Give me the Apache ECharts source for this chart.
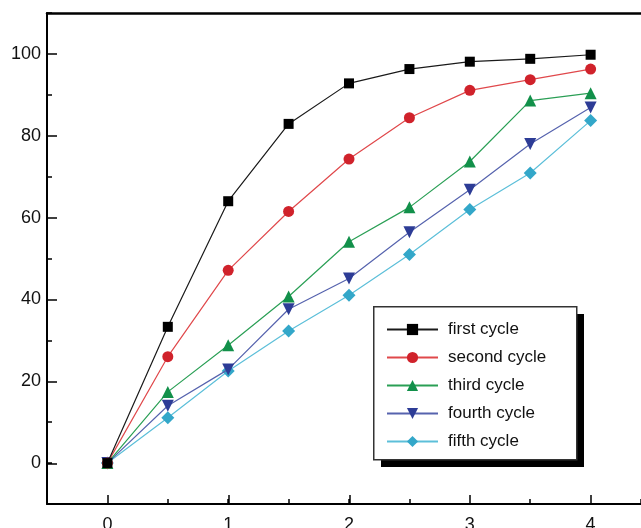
<!DOCTYPE html>
<html>
<head>
<meta charset="utf-8">
<script src="https://cdn.jsdelivr.net/npm/echarts@6/dist/echarts.min.js"></script>
<style>
  html, body { margin: 0; padding: 0; background: #fff; }
  #chart { width: 641px; height: 528px; }
</style>
</head>
<body>
<div id="chart"></div>
<script>
// cycle data, x = 0 .. 4 in steps of 0.5
const xValues = [0, 0.5, 1, 1.5, 2, 2.5, 3, 3.5, 4];
const firstCycle = [0, 33.3, 64.0, 82.9, 92.8, 96.3, 98.1, 98.8, 99.8];
const secondCycle = [0, 26.0, 47.1, 61.5, 74.3, 84.4, 91.1, 93.7, 96.3];
const thirdCycle = [0, 17.4, 28.8, 40.7, 54.1, 62.5, 73.7, 88.6, 90.4];
const fourthCycle = [0, 14.0, 22.9, 37.6, 45.1, 56.4, 66.8, 78.0, 86.9];
const fifthCycle = [0, 11.1, 22.5, 32.3, 41.0, 51.0, 62.0, 70.9, 83.7];

const seriesNames = ['first cycle', 'second cycle', 'third cycle', 'fourth cycle', 'fifth cycle'];
const xTickLabels = ['0', '1', '2', '3', '4'];
const yTickLabels = ['0', '20', '40', '60', '80', '100'];

const FONT = '"Liberation Sans", Arial, sans-serif';

const styles = [
    { data: firstCycle, symbol: 'rect', size: 10, marker: '#000000', line: '#1a1a1a' },
    { data: secondCycle, symbol: 'circle', size: 11, marker: '#d0222b', line: '#e0484b' },
    { data: thirdCycle, symbol: 'triangle', size: 12, marker: '#12904a', line: '#2a9f55' },
    { data: fourthCycle, symbol: 'path://M0,0 L10,0 L5,9 Z', size: 12, marker: '#2d3c96', line: '#5663ae' },
    { data: fifthCycle, symbol: 'diamond', size: 13, marker: '#33a7c9', line: '#5cbfd9' }
];

const chart = echarts.init(document.getElementById('chart'), null, { renderer: 'canvas' });

const series = styles.map((s, i) => ({
    name: seriesNames[i],
    type: 'line',
    xAxisIndex: 0,
    yAxisIndex: 0,
    data: xValues.map((x, j) => [x, s.data[j]]),
    symbol: s.symbol,
    symbolSize: s.size,
    itemStyle: { color: s.marker },
    lineStyle: { color: s.line, width: 1.2 },
    z: 10 - i,
    animation: false
}));

const tickStyle = { color: '#000', width: 1.5 };

const option = {
    backgroundColor: '#ffffff',
    animation: false,
    grid: [
        // main frame, the right side runs off the picture
        { left: 47, right: 0, top: 13, bottom: 24, show: false, outerBoundsMode: 'none', containLabel: false },
        // inner grid only used for the long major ticks
        { left: 108, right: 50.3, top: 54, bottom: 64, show: false, outerBoundsMode: 'none', containLabel: false }
    ],
    xAxis: [
        {
            type: 'value', gridIndex: 0, min: -0.5, max: 4.417, interval: 0.5,
            axisLine: { onZero: false, lineStyle: { color: '#000', width: 2 } },
            axisTick: { inside: true, length: 5, lineStyle: tickStyle },
            splitLine: { show: false },
            axisLabel: {
                margin: 12, color: '#111', fontSize: 18, fontFamily: FONT,
                formatter: v => (Number.isInteger(v) && v >= 0 ? xTickLabels[v] : '')
            }
        },
        {
            type: 'value', gridIndex: 1, min: 0, max: 4, interval: 1, offset: 40,
            axisLine: { show: false, onZero: false },
            axisTick: { inside: true, length: 9, lineStyle: tickStyle },
            splitLine: { show: false },
            axisLabel: { show: false }
        },
        {
            // top border of the frame
            type: 'value', gridIndex: 0, position: 'top', min: -0.5, max: 4.417,
            axisLine: { onZero: false, lineStyle: { color: '#000', width: 2.5 } },
            axisTick: { show: false },
            splitLine: { show: false },
            axisLabel: { show: false }
        }
    ],
    yAxis: [
        {
            type: 'value', gridIndex: 0, min: -10, max: 110, interval: 10,
            axisLine: { onZero: false, lineStyle: { color: '#000', width: 2 } },
            axisTick: { inside: true, length: 5, lineStyle: tickStyle },
            splitLine: { show: false },
            axisLabel: {
                margin: 6, color: '#111', fontSize: 18, fontFamily: FONT,
                formatter: v => (v >= 0 && v % 20 === 0 ? yTickLabels[v / 20] : '')
            }
        },
        {
            type: 'value', gridIndex: 1, min: 0, max: 100, interval: 20, offset: 61,
            axisLine: { show: false, onZero: false },
            axisTick: { inside: true, length: 10, lineStyle: tickStyle },
            splitLine: { show: false },
            axisLabel: { show: false }
        }
    ],
    // legend box with a hard black drop shadow
    graphic: [
        { type: 'rect', left: 381, top: 314, z: 1, shape: { width: 203, height: 153 }, style: { fill: '#000' } },
        { type: 'rect', left: 373, top: 306, z: 2, shape: { width: 203, height: 153 }, style: { fill: '#fff', stroke: '#333', lineWidth: 1.5 } }
    ],
    legend: {
        data: seriesNames,
        orient: 'vertical',
        left: 373,
        top: 306,
        z: 10,
        padding: [15, 22, 12, 13],
        itemWidth: 51,
        itemHeight: 14,
        itemGap: 11,
        textStyle: { color: '#111', fontSize: 17, fontFamily: FONT, lineHeight: 14, padding: [0, 0, 0, 5] }
    },
    series: series
};

chart.setOption(option);
</script>
</body>
</html>
